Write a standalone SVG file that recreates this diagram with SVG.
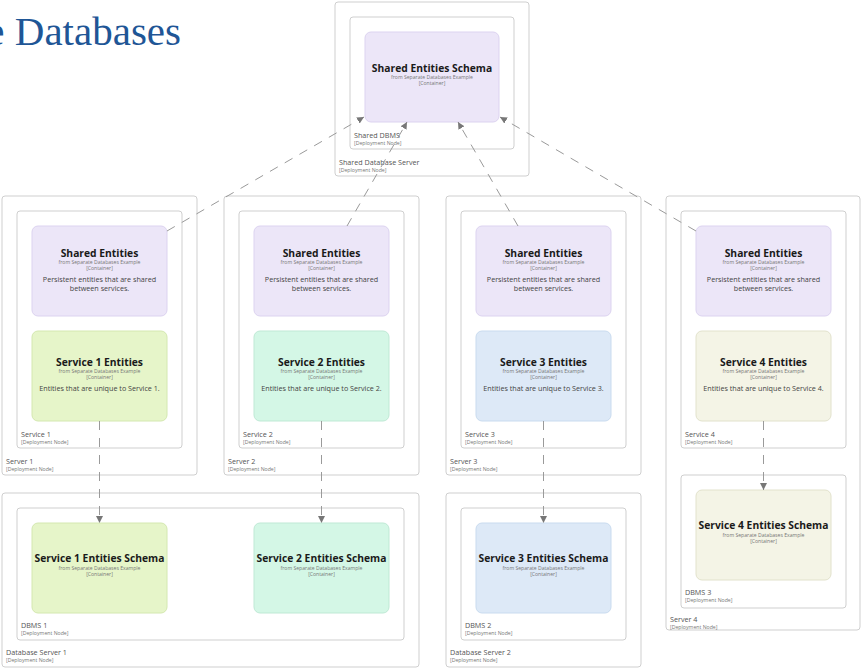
<svg xmlns="http://www.w3.org/2000/svg" width="861" height="668" viewBox="0 0 861 668">
<style>
.dn{fill:#fff;stroke:#cfcfcf;stroke-width:1}
.box{stroke-width:1}
.shared{fill:#ece6f8;stroke:#dcd3f0}
.s1{fill:#e6f5c9;stroke:#d4e8b0}
.s2{fill:#d4f7e6;stroke:#bfe9d5}
.s3{fill:#dde9f7;stroke:#c9dbef}
.s4{fill:#f4f4e6;stroke:#e2e2cc}
.t{font-family:"Open Sans","Noto Sans",sans-serif;font-weight:bold;font-size:10.3px;fill:#1a1a1a;text-anchor:middle}
.sub{font-family:"Open Sans","Noto Sans",sans-serif;font-size:5.1px;fill:#777;text-anchor:middle}
.d{font-family:"Open Sans","Noto Sans",sans-serif;font-size:7.2px;fill:#444;text-anchor:middle}
.nl{font-family:"Open Sans","Noto Sans",sans-serif;font-size:7.2px;fill:#555}
.nt{font-family:"Open Sans","Noto Sans",sans-serif;font-size:5.2px;fill:#777}
.c{fill:none;stroke:#9a9a9a;stroke-width:1;stroke-dasharray:9,8}
.title{font-family:"Liberation Serif","Times New Roman",serif;font-size:41px;fill:#1f5696}
</style>
<defs>
<marker id="ah" viewBox="0 0 10 10" refX="10" refY="5" markerWidth="7" markerHeight="7" orient="auto" markerUnits="userSpaceOnUse">
<path d="M0,0 L10,5 L0,10 z" fill="#777"/>
</marker>
</defs>
<rect width="861" height="668" fill="#fff"/>
<text class="title" x="181" y="45" text-anchor="end">e Databases</text>

<g id="shared-database-server">
<rect class="dn" x="335" y="2" width="194" height="174" rx="3"/>
<text class="nl" x="339" y="165">Shared Database Server</text>
<text class="nt" x="339" y="172">[Deployment Node]</text>
<g id="shared-dbms">
<rect class="dn" x="350" y="17" width="164" height="132" rx="3"/>
<text class="nl" x="354" y="138">Shared DBMS</text>
<text class="nt" x="354" y="145">[Deployment Node]</text>
<g id="shared-entities-schema">
<rect class="box shared" x="365" y="32" width="134" height="90" rx="6"/>
<text class="t" x="432" y="72">Shared Entities Schema</text>
<text class="sub" x="432" y="79">from Separate Databases Example</text>
<text class="sub" x="432" y="85">[Container]</text>
</g>
</g>
</g>

<g id="server-1">
<rect class="dn" x="2" y="196" width="195" height="279" rx="3"/>
<text class="nl" x="6" y="464">Server 1</text>
<text class="nt" x="6" y="471">[Deployment Node]</text>
<g id="service-1">
<rect class="dn" x="17" y="211" width="165" height="237" rx="3"/>
<text class="nl" x="21" y="437">Service 1</text>
<text class="nt" x="21" y="444">[Deployment Node]</text>
<g id="shared-entities-1">
<rect class="box shared" x="32" y="226" width="135" height="90" rx="6"/>
<text class="t" x="99.5" y="257">Shared Entities</text>
<text class="sub" x="99.5" y="264">from Separate Databases Example</text>
<text class="sub" x="99.5" y="270">[Container]</text>
<text class="d" x="99.5" y="282">Persistent entities that are shared</text>
<text class="d" x="99.5" y="291">between services.</text>
</g>
<g id="service-1-entities">
<rect class="box s1" x="32" y="331" width="135" height="90" rx="6"/>
<text class="t" x="99.5" y="366">Service 1 Entities</text>
<text class="sub" x="99.5" y="373">from Separate Databases Example</text>
<text class="sub" x="99.5" y="379">[Container]</text>
<text class="d" x="99.5" y="391">Entities that are unique to Service 1.</text>
</g>
</g>
</g>

<g id="server-2">
<rect class="dn" x="224" y="196" width="195" height="279" rx="3"/>
<text class="nl" x="228" y="464">Server 2</text>
<text class="nt" x="228" y="471">[Deployment Node]</text>
<g id="service-2">
<rect class="dn" x="239" y="211" width="165" height="237" rx="3"/>
<text class="nl" x="243" y="437">Service 2</text>
<text class="nt" x="243" y="444">[Deployment Node]</text>
<g id="shared-entities-2">
<rect class="box shared" x="254" y="226" width="135" height="90" rx="6"/>
<text class="t" x="321.5" y="257">Shared Entities</text>
<text class="sub" x="321.5" y="264">from Separate Databases Example</text>
<text class="sub" x="321.5" y="270">[Container]</text>
<text class="d" x="321.5" y="282">Persistent entities that are shared</text>
<text class="d" x="321.5" y="291">between services.</text>
</g>
<g id="service-2-entities">
<rect class="box s2" x="254" y="331" width="135" height="90" rx="6"/>
<text class="t" x="321.5" y="366">Service 2 Entities</text>
<text class="sub" x="321.5" y="373">from Separate Databases Example</text>
<text class="sub" x="321.5" y="379">[Container]</text>
<text class="d" x="321.5" y="391">Entities that are unique to Service 2.</text>
</g>
</g>
</g>

<g id="server-3">
<rect class="dn" x="446" y="196" width="195" height="279" rx="3"/>
<text class="nl" x="450" y="464">Server 3</text>
<text class="nt" x="450" y="471">[Deployment Node]</text>
<g id="service-3">
<rect class="dn" x="461" y="211" width="165" height="237" rx="3"/>
<text class="nl" x="465" y="437">Service 3</text>
<text class="nt" x="465" y="444">[Deployment Node]</text>
<g id="shared-entities-3">
<rect class="box shared" x="476" y="226" width="135" height="90" rx="6"/>
<text class="t" x="543.5" y="257">Shared Entities</text>
<text class="sub" x="543.5" y="264">from Separate Databases Example</text>
<text class="sub" x="543.5" y="270">[Container]</text>
<text class="d" x="543.5" y="282">Persistent entities that are shared</text>
<text class="d" x="543.5" y="291">between services.</text>
</g>
<g id="service-3-entities">
<rect class="box s3" x="476" y="331" width="135" height="90" rx="6"/>
<text class="t" x="543.5" y="366">Service 3 Entities</text>
<text class="sub" x="543.5" y="373">from Separate Databases Example</text>
<text class="sub" x="543.5" y="379">[Container]</text>
<text class="d" x="543.5" y="391">Entities that are unique to Service 3.</text>
</g>
</g>
</g>

<g id="server-4">
<rect class="dn" x="666" y="196" width="194" height="434" rx="3"/>
<text class="nl" x="670" y="622">Server 4</text>
<text class="nt" x="670" y="629">[Deployment Node]</text>
<g id="service-4">
<rect class="dn" x="681" y="211" width="165" height="237" rx="3"/>
<text class="nl" x="685" y="437">Service 4</text>
<text class="nt" x="685" y="444">[Deployment Node]</text>
<g id="shared-entities-4">
<rect class="box shared" x="696" y="226" width="135" height="90" rx="6"/>
<text class="t" x="763.5" y="257">Shared Entities</text>
<text class="sub" x="763.5" y="264">from Separate Databases Example</text>
<text class="sub" x="763.5" y="270">[Container]</text>
<text class="d" x="763.5" y="282">Persistent entities that are shared</text>
<text class="d" x="763.5" y="291">between services.</text>
</g>
<g id="service-4-entities">
<rect class="box s4" x="696" y="331" width="135" height="90" rx="6"/>
<text class="t" x="763.5" y="366">Service 4 Entities</text>
<text class="sub" x="763.5" y="373">from Separate Databases Example</text>
<text class="sub" x="763.5" y="379">[Container]</text>
<text class="d" x="763.5" y="391">Entities that are unique to Service 4.</text>
</g>
</g>
<g id="dbms-3">
<rect class="dn" x="681" y="475" width="165" height="133" rx="3"/>
<text class="nl" x="685" y="595">DBMS 3</text>
<text class="nt" x="685" y="602">[Deployment Node]</text>
<g id="service-4-entities-schema">
<rect class="box s4" x="696" y="490" width="135" height="90" rx="6"/>
<text class="t" x="763.5" y="529">Service 4 Entities Schema</text>
<text class="sub" x="763.5" y="537">from Separate Databases Example</text>
<text class="sub" x="763.5" y="543">[Container]</text>
</g>
</g>
</g>

<g id="database-server-1">
<rect class="dn" x="2" y="493" width="417" height="174" rx="3"/>
<text class="nl" x="6" y="655">Database Server 1</text>
<text class="nt" x="6" y="662">[Deployment Node]</text>
<g id="dbms-1">
<rect class="dn" x="17" y="508" width="387" height="132" rx="3"/>
<text class="nl" x="21" y="628">DBMS 1</text>
<text class="nt" x="21" y="635">[Deployment Node]</text>
<g id="service-1-entities-schema">
<rect class="box s1" x="32" y="523" width="135" height="90" rx="6"/>
<text class="t" x="99.5" y="562">Service 1 Entities Schema</text>
<text class="sub" x="99.5" y="570">from Separate Databases Example</text>
<text class="sub" x="99.5" y="576">[Container]</text>
</g>
<g id="service-2-entities-schema">
<rect class="box s2" x="254" y="523" width="135" height="90" rx="6"/>
<text class="t" x="321.5" y="562">Service 2 Entities Schema</text>
<text class="sub" x="321.5" y="570">from Separate Databases Example</text>
<text class="sub" x="321.5" y="576">[Container]</text>
</g>
</g>
</g>

<g id="database-server-2">
<rect class="dn" x="446" y="493" width="195" height="174" rx="3"/>
<text class="nl" x="450" y="655">Database Server 2</text>
<text class="nt" x="450" y="662">[Deployment Node]</text>
<g id="dbms-2">
<rect class="dn" x="461" y="508" width="165" height="132" rx="3"/>
<text class="nl" x="465" y="628">DBMS 2</text>
<text class="nt" x="465" y="635">[Deployment Node]</text>
<g id="service-3-entities-schema">
<rect class="box s3" x="476" y="523" width="135" height="90" rx="6"/>
<text class="t" x="543.5" y="562">Service 3 Entities Schema</text>
<text class="sub" x="543.5" y="570">from Separate Databases Example</text>
<text class="sub" x="543.5" y="576">[Container]</text>
</g>
</g>
</g>

<g id="connectors">
<path class="c" d="M167,231 L364,117" marker-end="url(#ah)"/>
<path class="c" d="M347,226 L407,122" marker-end="url(#ah)"/>
<path class="c" d="M518,226 L458,122" marker-end="url(#ah)"/>
<path class="c" d="M696,231 L500,117" marker-end="url(#ah)"/>
<path class="c" d="M99.5,421 L99.5,523" marker-end="url(#ah)"/>
<path class="c" d="M321.5,421 L321.5,523" marker-end="url(#ah)"/>
<path class="c" d="M543.5,421 L543.5,523" marker-end="url(#ah)"/>
<path class="c" d="M763.5,421 L763.5,490" marker-end="url(#ah)"/>
</g>
</svg>
